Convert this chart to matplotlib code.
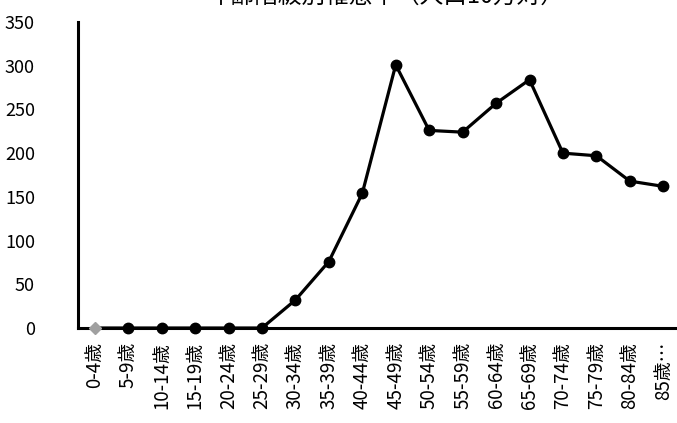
import matplotlib
matplotlib.use("Agg")
import matplotlib.pyplot as plt

plt.rcParams['font.family'] = ['Noto Sans CJK JP', 'DejaVu Sans']

categories = ["0-4歳", "5-9歳", "10-14歳", "15-19歳", "20-24歳", "25-29歳", "30-34歳",
              "35-39歳", "40-44歳", "45-49歳", "50-54歳", "55-59歳", "60-64歳", "65-69歳",
              "70-74歳", "75-79歳", "80-84歳", "85歳…"]
values = [0, 0, 0, 0, 0, 0, 32, 76, 154, 301, 226, 224, 257, 284, 200, 197, 168, 162]
yticks = [0, 50, 100, 150, 200, 250, 300, 350]
title = "年齢階級別罹患率（人口10万対）"

fig = plt.figure(figsize=(6.77, 4.23), dpi=100)
ax = fig.add_axes([78/677, 1 - 328/423, (680-78)/677, (328-22)/423])

x = list(range(len(categories)))
ax.plot(x, values, color='black', lw=2.3, zorder=3)
ax.plot(x[1:], values[1:], 'o', color='black', ms=7.5, zorder=4, clip_on=False)
ax.plot(x[0], values[0], 'D', color='#a0a0a0', ms=6.5, zorder=5, clip_on=False)

ax.set_xlim(-0.5, len(categories) - 0.5)
ax.set_ylim(0, 350)
ax.set_yticks(yticks)
ax.set_xticks(x)
ax.set_xticklabels(categories, rotation=90, fontsize=13.5)
ax.tick_params(axis='y', labelsize=13, length=0, pad=31)
ax.tick_params(axis='x', length=0, pad=10)
for s in ['top', 'right']:
    ax.spines[s].set_visible(False)
ax.spines['left'].set_linewidth(2.2)
ax.spines['bottom'].set_linewidth(2.2)
ax.spines['bottom'].set_zorder(2)

fig.text(386/677, 1 + 4/423, title, ha='center', va='center', fontsize=17)

fig.savefig("out.png", dpi=100)
